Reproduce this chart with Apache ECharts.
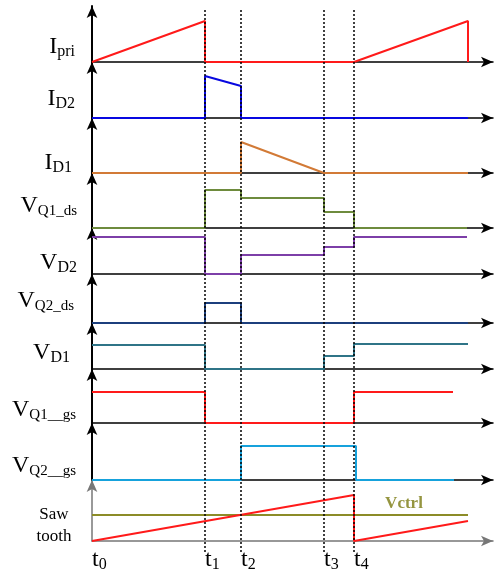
<!DOCTYPE html>
<html>
<head>
<meta charset="utf-8">
<script src="https://cdn.jsdelivr.net/npm/echarts@6/dist/echarts.min.js"></script>
<style>
  html, body { margin: 0; padding: 0; background: #fff; }
  #chart { width: 499px; height: 571px; }
</style>
</head>
<body>
<div id="chart"></div>
<script>
// switching instants t0..t4 and end of the drawn period (time units)
const tMarks = [0, 113, 149, 232, 262];
const tSubs = ['0', '1', '2', '3', '4'];
const xMax = 401;

// waveforms: [time, amplitude]
const iPri   = [[0, 0], [113, 41], [113, 0], [262, 0], [376, 41], [376, 0]];
const iD2    = [[0, 0], [113, 0], [113, 42], [149, 32], [149, 0], [376, 0]];
const iD1    = [[0, 0], [149, 0], [149, 31], [232, 0], [376, 0]];
const vQ1ds  = [[0, 0], [113, 0], [113, 38], [149, 38], [149, 30], [232, 30], [232, 16], [262, 16], [262, 0], [375, 0]];
const vD2    = [[0, 37], [113, 37], [113, 0], [149, 0], [149, 19], [232, 19], [232, 27], [262, 27], [262, 37], [375, 37]];
const vQ2ds  = [[0, 0], [113, 0], [113, 20], [149, 20], [149, 0], [376, 0]];
const vD1    = [[0, 24], [113, 24], [113, 0], [232, 0], [232, 13], [262, 13], [262, 25], [376, 25]];
const vQ1gs  = [[0, 31], [113, 31], [113, 0], [262, 0], [262, 31], [361, 31]];
const vQ2gs  = [[0, 0], [149, 0], [149, 34], [264, 34], [264, 0], [362, 0]];
const saw    = [[0, 0], [262, 46], [262, 0], [376, 20]];
const vCtrl  = [[0, 26], [376, 26]];
const vCtrlLabelAt = [[312, 26]];

const waves = [iPri, iD2, iD1, vQ1ds, vD2, vQ2ds, vD1, vQ1gs, vQ2gs, saw];
const colors = ['#ff1a1a', '#0808e0', '#d27a36', '#6e8b3d', '#7d3fa8', '#1c3f7d', '#2f7487', '#ff1a1a', '#16a2dc', '#ff1a1a'];
const labelMain = ['I', 'I', 'I', 'V', 'V', 'V', 'V', 'V', 'V'];
const labelSub = ['pri', 'D2', 'D1', 'Q1_ds', 'D2', 'Q2_ds', 'D1', 'Q1__gs', 'Q2__gs'];

// layout of the stacked panels (pixels)
const panelTop = [6, 62, 118, 173, 228, 274, 323, 369, 423, 480];
const panelBase = [62, 118, 173, 228, 274, 323, 369, 423, 480, 541];
const labelRight = [75, 75, 72, 77, 77, 74, 70, 76, 76];
const labelBaseline = [54, 106, 170, 213, 270, 308, 360, 417, 473];

const serif = 'Liberation Serif';
const chart = echarts.init(document.getElementById('chart'));

const grids = [], xAxes = [], yAxes = [], series = [];
waves.forEach((w, i) => {
  const isSaw = i === 9;
  const axCol = isSaw ? '#777' : '#000';
  grids.push({ left: 92, width: xMax, top: panelTop[i], height: panelBase[i] - panelTop[i], outerBoundsMode: 'none' });
  xAxes.push({
    gridIndex: i, type: 'value', min: 0, max: xMax,
    axisLine: { lineStyle: { color: axCol, width: 1.5 }, symbol: ['none', 'arrow'], symbolSize: [8, 12] },
    axisTick: { show: false }, splitLine: { show: false },
    axisLabel: isSaw ? {
      show: true, customValues: tMarks, margin: 6, align: 'left', color: '#000',
      formatter: v => '{t|t}{s|' + tSubs[tMarks.indexOf(v)] + '}',
      rich: {
        t: { fontFamily: serif, fontSize: 24, lineHeight: 26, color: '#000' },
        s: { fontFamily: serif, fontSize: 16, lineHeight: 14, verticalAlign: 'bottom', color: '#000' }
      }
    } : { show: false }
  });
  yAxes.push({
    gridIndex: i, type: 'value', min: 0, max: panelBase[i] - panelTop[i],
    axisLine: { show: true, lineStyle: { color: axCol, width: isSaw ? 1.5 : 2 }, symbol: ['none', 'arrow'], symbolSize: [8, 12] },
    axisTick: { show: false }, splitLine: { show: false }, axisLabel: { show: false }
  });
  series.push({
    type: 'line', xAxisIndex: i, yAxisIndex: i, data: w, symbol: 'none',
    lineStyle: { color: colors[i], width: 2 }, z: 3, animation: false
  });
});

series.push({
  type: 'line', xAxisIndex: 9, yAxisIndex: 9, symbol: 'none', animation: false, z: 2,
  lineStyle: { color: '#8c8c28', width: 2 }, data: vCtrl
});
series.push({
  type: 'scatter', xAxisIndex: 9, yAxisIndex: 9, symbolSize: 0, animation: false, z: 5,
  data: vCtrlLabelAt,
  label: { show: true, position: 'top', distance: 3, formatter: 'Vctrl', color: '#7a7a10',
           fontFamily: serif, fontWeight: 'bold', fontSize: 17 }
});

// overlay grid for the dotted switching-instant markers
grids.push({ left: 92, width: xMax, top: 10, bottom: 19, outerBoundsMode: 'none' });
xAxes.push({ gridIndex: 10, type: 'value', min: 0, max: xMax, show: false });
yAxes.push({ gridIndex: 10, type: 'value', min: 0, max: 1, show: false });
series.push({
  type: 'line', xAxisIndex: 10, yAxisIndex: 10, data: [], symbol: 'none', animation: false, z: 4,
  markLine: {
    silent: true, symbol: 'none', animation: false, label: { show: false },
    lineStyle: { color: '#000', width: 1.5, type: [2, 2] },
    data: tMarks.slice(1).map(t => ({ xAxis: t }))
  }
});

const graphics = labelMain.map((m, i) => ({
  type: 'text', x: labelRight[i], y: labelBaseline[i] + 6,
  style: {
    text: '{m|' + m + '}{s|' + labelSub[i] + '}', align: 'right', verticalAlign: 'bottom',
    rich: {
      m: { fontFamily: serif, fontSize: 24, lineHeight: 26, fill: '#000' },
      s: { fontFamily: serif, fontSize: labelSub[i].length > 3 ? 15 : 16, lineHeight: 16, verticalAlign: 'bottom', fill: '#000' }
    }
  }
}));
graphics.push({
  type: 'text', x: 54, y: 526,
  style: { text: 'Saw\ntooth', align: 'center', verticalAlign: 'middle', lineHeight: 22,
           font: '17px "Liberation Serif"', fill: '#000' }
});

chart.setOption({
  animation: false,
  grid: grids, xAxis: xAxes, yAxis: yAxes, series: series,
  graphic: graphics
});
</script>
</body>
</html>
